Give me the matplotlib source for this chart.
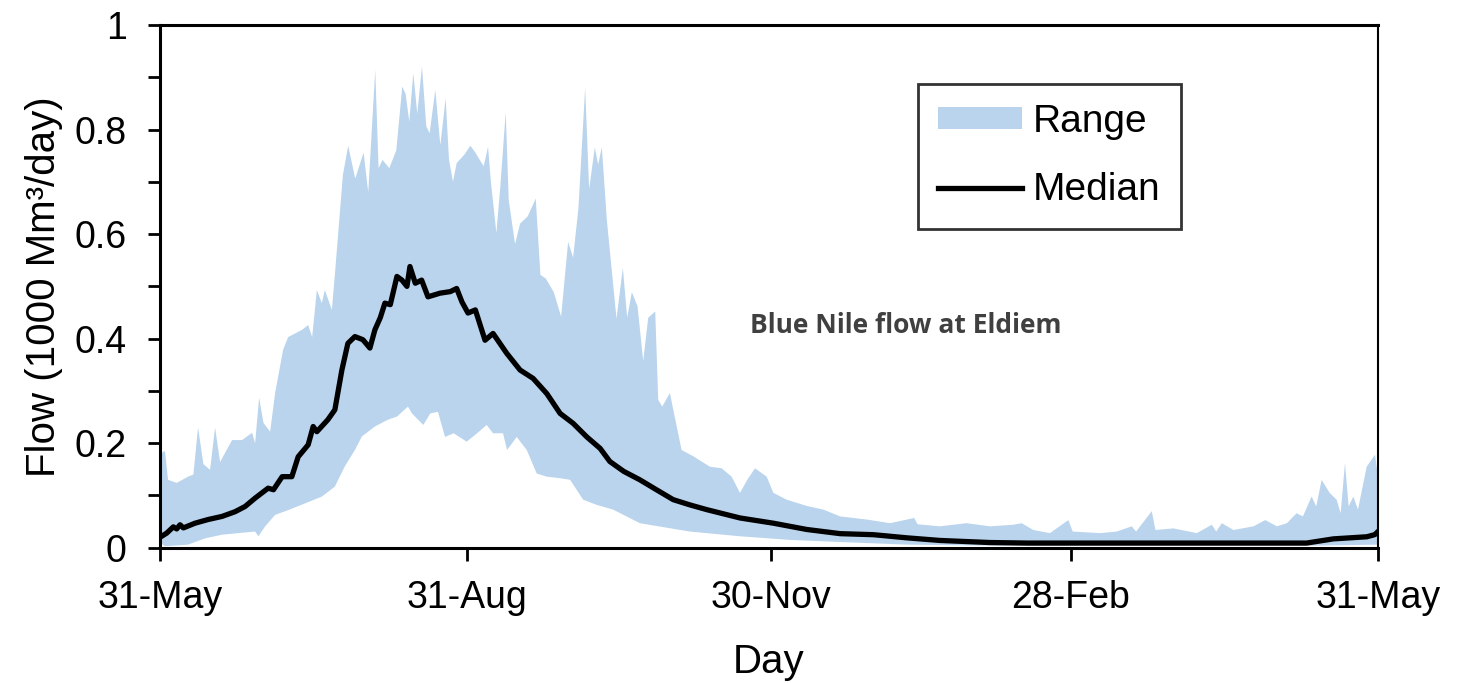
import matplotlib
matplotlib.use('Agg')
import matplotlib.pyplot as plt
from matplotlib.patches import Patch
from matplotlib.lines import Line2D
import numpy as np

plt.rcParams['font.family'] = ['Liberation Sans', 'DejaVu Sans']

# day of the water year (0 = 31 May) and flow in 1000 Mm3/day
upper_days = [0, 1.5, 2.4, 5, 8.4, 10, 11.4, 13, 15, 16.5, 18, 21.6, 24.6, 27.6, 28.5, 29.7, 31, 33,
              34.5, 36.9, 38.4, 42.6, 44.4, 45.6, 47, 48.5, 49.4, 51.5, 52.5, 54.8, 56.4, 58.5, 61,
              62.4, 64.5, 65.5, 66.7, 68.7, 70.8, 72.6, 73.6, 74.7, 75.9, 77.1, 78.5, 79.8, 80.8,
              82.5, 84, 85.6, 86.6, 87.8, 88.9, 91.2, 93, 94.5, 96, 97, 98.3, 99.2, 100.8, 101.9,
              103.6, 104.5, 106.4, 107.9, 110.2, 112.6, 114, 115.6, 118, 120.2, 122.3, 123.8, 125.4,
              127.4, 128.6, 130.3, 131.3, 132.4, 133.9, 136.8, 138.7, 140, 141.4, 143.1, 144.8,
              146.3, 148.4, 149.3, 150.5, 152.8, 154, 156.3, 159.8, 164.8, 168.3, 171.3, 173.8,
              176, 178.3, 181.8, 183.8, 187.8, 193.8, 198.8, 203.8, 211.8, 218.8, 226, 227, 233.7,
              241.7, 248.7, 255.7, 258.2, 261.7, 266.7, 272.2, 273.5, 281.7, 286.7, 291.2, 292.5,
              297.2, 298.3, 303.7, 310.7, 315.2, 316.5, 318.2, 321.7, 327.7, 331.2, 334.7, 337.7,
              340.6, 342.5, 345.1, 346.5, 348.1, 350.5, 352.6, 353.8, 355.1, 356.2, 357.6, 359,
              361.6, 364.1, 365]
upper_vals = [0.18, 0.185, 0.13, 0.124, 0.136, 0.14, 0.23, 0.16, 0.149, 0.23, 0.164, 0.206, 0.206,
              0.22, 0.20, 0.287, 0.239, 0.222, 0.296, 0.379, 0.403, 0.417, 0.426, 0.403, 0.493,
              0.468, 0.493, 0.455, 0.53, 0.713, 0.769, 0.706, 0.756, 0.68, 0.914, 0.726, 0.742,
              0.726, 0.76, 0.882, 0.868, 0.815, 0.908, 0.83, 0.921, 0.806, 0.793, 0.876, 0.77,
              0.86, 0.742, 0.70, 0.736, 0.752, 0.769, 0.756, 0.74, 0.73, 0.767, 0.697, 0.602,
              0.684, 0.833, 0.665, 0.581, 0.62, 0.634, 0.668, 0.522, 0.515, 0.489, 0.442, 0.585,
              0.555, 0.65, 0.88, 0.686, 0.766, 0.733, 0.766, 0.627, 0.438, 0.535, 0.44, 0.489,
              0.462, 0.357, 0.44, 0.452, 0.283, 0.27, 0.296, 0.258, 0.187, 0.175, 0.155, 0.152,
              0.136, 0.105, 0.13, 0.152, 0.136, 0.105, 0.092, 0.08, 0.073, 0.06, 0.054, 0.047,
              0.057, 0.045, 0.041, 0.047, 0.041, 0.044, 0.047, 0.034, 0.028, 0.053, 0.031, 0.028,
              0.031, 0.041, 0.031, 0.07, 0.034, 0.037, 0.028, 0.044, 0.031, 0.047, 0.034, 0.041,
              0.053, 0.041, 0.047, 0.066, 0.06, 0.098, 0.079, 0.13, 0.105, 0.092, 0.066, 0.162,
              0.079, 0.098, 0.073, 0.155, 0.178, 0.136]

lower_days = [0, 1.5, 8.4, 13.5, 18.6, 23.4, 28.5, 29.5, 31.5, 34.5, 38.4, 43.5, 48.5, 52.4, 55.4,
              58.4, 60.5, 64.4, 68.3, 71, 74.3, 75.5, 78.9, 81, 83.3, 85.4, 88, 91.9, 95, 97.9,
              99.8, 102.8, 104, 106.9, 109.9, 112.9, 115.9, 119.9, 122.9, 126.8, 130.9, 135.8,
              143.8, 158.8, 173.8, 188.8, 203.8, 223.8, 250, 300, 345, 365]
lower_vals = [0.01, 0.003, 0.006, 0.018, 0.025, 0.028, 0.031, 0.022, 0.041, 0.063, 0.072, 0.085,
              0.098, 0.117, 0.156, 0.187, 0.213, 0.232, 0.245, 0.251, 0.27, 0.257, 0.235, 0.257,
              0.26, 0.212, 0.219, 0.203, 0.219, 0.235, 0.219, 0.219, 0.187, 0.212, 0.187, 0.142,
              0.136, 0.133, 0.13, 0.092, 0.082, 0.073, 0.047, 0.031, 0.022, 0.015, 0.011, 0.006,
              0.004, 0.004, 0.004, 0.006]

median_days = [0, 2, 4, 5, 6, 7, 10.5, 14.4, 18.6, 22.5, 25.5, 28.5, 32.4, 34, 36.6, 39.5, 41.4,
               44.4, 45.9, 47, 50.3, 52.4, 54.5, 56.3, 58.4, 60.8, 62.9, 64.4, 66, 67.4, 69, 71,
               72.5, 74, 74.9, 76.5, 78.4, 80.3, 83.9, 87, 88.9, 90.5, 92.3, 94.5, 97.4, 99.8,
               103.9, 107.9, 111.8, 115.9, 119.9, 123.8, 127.9, 131.9, 134.8, 139, 143.8, 148.5,
               153.8, 158.8, 163.8, 168.8, 173.8, 178.8, 183.8, 188.8, 193.8, 198.8, 203.8, 208.8,
               213.8, 218.8, 223.8, 233.7, 248.7, 260, 300, 343.6, 351.6, 361.6, 364, 365]
median_vals = [0.02, 0.028, 0.04, 0.036, 0.044, 0.038, 0.047, 0.054, 0.06, 0.069, 0.079, 0.095,
               0.114, 0.111, 0.136, 0.136, 0.174, 0.197, 0.232, 0.222, 0.245, 0.264, 0.34, 0.391,
               0.404, 0.398, 0.382, 0.417, 0.44, 0.468, 0.465, 0.519, 0.512, 0.50, 0.538, 0.506,
               0.512, 0.48, 0.487, 0.49, 0.496, 0.47, 0.449, 0.455, 0.397, 0.41, 0.372, 0.34,
               0.324, 0.295, 0.257, 0.238, 0.212, 0.19, 0.165, 0.146, 0.13, 0.112, 0.092, 0.082,
               0.073, 0.065, 0.057, 0.052, 0.047, 0.041, 0.035, 0.031, 0.027, 0.026, 0.025, 0.022,
               0.019, 0.014, 0.010, 0.009, 0.009, 0.009, 0.017, 0.021, 0.025, 0.031]

tick_days = [0, 92, 183, 273, 365]
tick_labels = ['31-May', '31-Aug', '30-Nov', '28-Feb', '31-May']

range_color = '#b9d4ec'

fig = plt.figure(figsize=(14.68, 6.83), dpi=100)
ax = fig.add_axes([0.109, 0.198, 0.8297, 0.7654])

poly_x = np.concatenate([upper_days, lower_days[::-1]])
poly_y = np.concatenate([upper_vals, lower_vals[::-1]])
ax.fill(poly_x, poly_y, color=range_color, lw=0)
ax.plot(median_days, median_vals, color='black', lw=3.8, solid_joinstyle='round')

ax.set_xlim(0, 365)
ax.set_ylim(0, 1)
ax.set_xticks(tick_days)
ax.set_xticklabels(tick_labels)
ax.set_yticks(np.arange(0, 1.01, 0.2))
ax.set_yticklabels(['0', '0.2', '0.4', '0.6', '0.8', '1'])
ax.set_yticks(np.arange(0.1, 1.0, 0.2), minor=True)
ax.tick_params(axis='both', which='both', direction='out', length=9, width=2, labelsize=27)
ax.tick_params(axis='x', pad=14)
ax.tick_params(axis='y', which='both', pad=15)

for side in ['left', 'bottom', 'top']:
    ax.spines[side].set_linewidth(2.2)
ax.spines['right'].set_linewidth(1.5)

ax.set_xlabel('Day', fontsize=29, labelpad=20)
ax.set_ylabel('Flow (1000 Mm³/day)', fontsize=29, labelpad=8)

handles = [Patch(facecolor=range_color, edgecolor='none', label='Range'),
           Line2D([], [], color='black', lw=3.8, label='Median')]
leg = ax.legend(handles=handles, loc='upper left', bbox_to_anchor=(0.622, 0.888), fontsize=28,
                frameon=True, fancybox=False, edgecolor='black', handlelength=2.15,
                handleheight=0.5, handletextpad=0.27, labelspacing=0.83, borderpad=0.53,
                borderaxespad=0)
leg.get_frame().set_linewidth(2)

ax.text(176.8, 0.426, 'Blue Nile flow at Eldiem', fontsize=19, fontweight='bold',
        family='Open Sans', color='#404040', va='center', ha='left')

fig.savefig('out.png', dpi=100)
